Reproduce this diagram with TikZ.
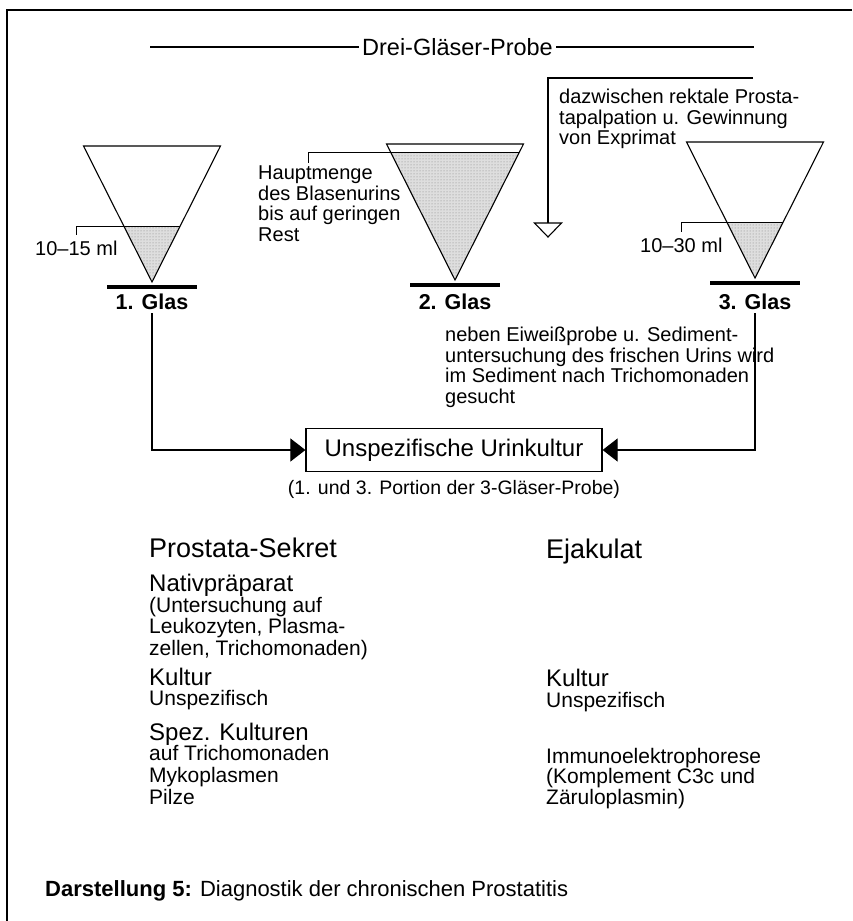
\documentclass[tikz,border=0pt]{standalone}
\usepackage{fontspec}
\setmainfont{Liberation Sans}
\usetikzlibrary{positioning, arrows.meta, patterns}

\begin{document}
\begin{tikzpicture}[
    x=1pt, y=-1pt,
    rim/.style={draw, line width=1.1pt, line join=miter},
    stipple/.style={fill=black!13, postaction={pattern=dots, pattern color=black!50}},
    foot/.style={line width=4pt},
    glaslabel/.style={font=\bfseries\fontsize{21.5}{24}\selectfont},
    remark/.style={font=\fontsize{20}{20.5}\selectfont, align=left, inner sep=0pt, anchor=north west},
    colhead/.style={font=\fontsize{27}{30}\selectfont, inner sep=0pt, anchor=base west},
    colsub/.style={font=\fontsize{24}{26}\selectfont, inner sep=0pt, anchor=base west},
    colbody/.style={font=\fontsize{21}{21.5}\selectfont, align=left, inner sep=0pt, anchor=north west},
    block/.style={rectangle, draw, line width=1.2pt, minimum width=296pt, minimum height=43pt, font=\fontsize{24}{26}\selectfont},
    line/.style={draw, line width=1.1pt, -{Triangle[length=15pt, width=23pt]}}
]
\useasboundingbox (0,0) rectangle (852,921);

% frame (open to the right and bottom)
\draw[line width=1.8pt] (852,10) -- (7,10) -- (7,921);

% heading
\node[font=\fontsize{23.5}{26}\selectfont] (title) at (457.5,47) {Drei-Gläser-Probe};
\coordinate (tl) at (150,47);
\coordinate (tr) at (754,47);
\draw[line width=1.1pt] (tl) -- (title.west);
\draw[line width=1.1pt] (title.east) -- (tr);

% the three glasses: apex x / apex y / filling height
\foreach \gx/\gy/\lv [count=\i] in {152/282/56, 455/280/128, 755/278/56} {
    \pgfmathsetmacro{\hw}{\lv*68.5/136}
    \fill[stipple] (\gx,\gy) -- (\gx-\hw,\gy-\lv) -- (\gx+\hw,\gy-\lv) -- cycle;
    \draw[line width=1pt] (\gx-\hw,\gy-\lv) -- (\gx+\hw,\gy-\lv);
    \draw[rim] (\gx,\gy) -- (\gx-68.5,\gy-136) -- (\gx+68.5,\gy-136) -- cycle;
    \draw[foot] (\gx-45,\gy+5) -- (\gx+45,\gy+5);
    \coordinate (lv\i) at (\gx-\hw,\gy-\lv);
}

\node[glaslabel] (g1) at (152,302) {1. Glas};
\node[glaslabel] (g2) at (455,302) {2. Glas};
\node[glaslabel] (g3) at (755,302) {3. Glas};

% filling levels
\node[font=\fontsize{20}{22}\selectfont, inner sep=0pt, anchor=base west] (ml1) at (35,255) {10--15 ml};
\node[font=\fontsize{20}{22}\selectfont, inner sep=0pt, anchor=base west] (ml3) at (640,252) {10--30 ml};
\draw[line width=1pt] (lv1) -| ([yshift=5pt]ml1.north);
\draw[line width=1pt] (lv3) -| ([yshift=5pt]ml3.north);

\node[remark] (haupt) at (258,166) {Hauptmenge\\des Blasenurins\\bis auf geringen\\Rest};
\draw[line width=1pt] (lv2) -| ([xshift=50pt, yshift=3pt]haupt.north west);

% prostate massage between 2nd and 3rd glass
\node[remark] (exprimat) at (559,89) {dazwischen rektale Prosta-\\tapalpation u. Gewinnung\\von Exprimat};
\coordinate (ex) at (753,78);
\coordinate (drop) at (548,223);
\draw[line width=1.1pt] (ex) -| (drop);
\draw[line width=1.1pt] (drop) ++(-13.5,0) -- ++(27,0) -- ++(-13.5,14) -- cycle;

\node[remark] (neben) at (445,327) {neben Eiweißprobe u. Sediment-\\untersuchung des frischen Urins wird\\im Sediment nach Trichomonaden\\gesucht};

% urine culture
\node[block] (kultur) at (454,450) {Unspezifische Urinkultur};
\node[below=5pt of kultur, font=\fontsize{19.5}{22}\selectfont] (portion) {(1. und 3. Portion der 3-Gläser-Probe)};

\path[line] (g1.south) |- (kultur.west);
\path[line] (g3.south) |- (kultur.east);

% prostatic secretion
\node[colhead] (sekret) at (149,557) {Prostata-Sekret};
\node[colsub] (nativ) at (149,591.5) {Nativpräparat};
\node[colbody] (nativtxt) at (149,597) {(Untersuchung auf\\Leukozyten, Plasma-\\zellen, Trichomonaden)};
\node[colsub] (kult1) at (149,685.5) {Kultur};
\node[colbody] (kult1txt) at (149,690) {Unspezifisch};
\node[colsub] (spez) at (149,740.5) {Spez. Kulturen};
\node[colbody, font=\fontsize{21}{22}\selectfont] (speztxt) at (149,745) {auf Trichomonaden\\Mykoplasmen\\Pilze};

% ejaculate
\node[colhead] (ejak) at (546,558) {Ejakulat};
\node[colsub] (kult2) at (546,686.5) {Kultur};
\node[colbody] (kult2txt) at (546,692) {Unspezifisch};
\node[colbody, font=\fontsize{21}{20.5}\selectfont] (immun) at (546,748) {Immunoelektrophorese\\(Komplement C3c und\\Zäruloplasmin)};

% caption
\node[font=\fontsize{22}{24}\selectfont, inner sep=0pt, anchor=base west] (caption) at (45,896) {\textbf{Darstellung 5:} Diagnostik der chronischen Prostatitis};

\end{tikzpicture}
\end{document}
